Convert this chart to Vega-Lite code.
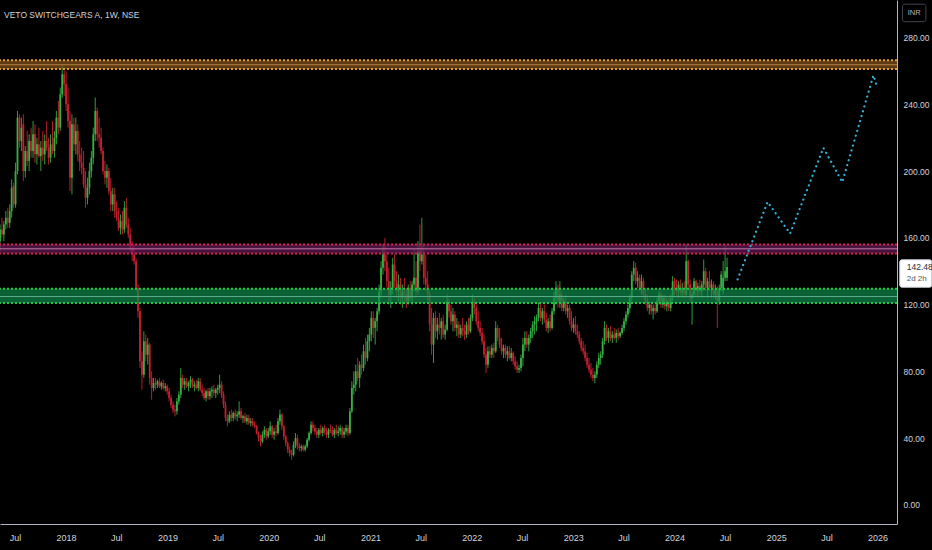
{
"$schema":"https://vega.github.io/schema/vega-lite/v6.json",
"width":897,"height":524,
"autosize":{"type":"none"},
"padding":{"left":0,"top":0,"right":35,"bottom":26},
"background":"#000000",
"title":{"text":"VETO SWITCHGEARS A, 1W, NSE","anchor":"start","frame":"group","orient":"top","offset":0,"dy":26,"dx":4,"baseline":"alphabetic","font":"Liberation Sans Narrow, Liberation Sans, sans-serif","fontSize":8.5,"fontWeight":"normal","color":"#d1d4dc"},
"config":{"view":{"stroke":null},"axis":{"grid":false,"ticks":false,"title":null}},
"datasets":{
"candles":[
{"d":"2017-05-08","o":158,"h":168,"l":152,"c":165},
{"d":"2017-05-15","o":165,"h":172,"l":160,"c":162},
{"d":"2017-05-22","o":162,"h":170,"l":158,"c":168},
{"d":"2017-05-29","o":168,"h":176,"l":165,"c":172},
{"d":"2017-06-05","o":172,"h":178,"l":166,"c":169},
{"d":"2017-06-12","o":169,"h":180,"l":166,"c":176},
{"d":"2017-06-19","o":176,"h":195,"l":172,"c":190},
{"d":"2017-06-26","o":191,"h":193,"l":178,"c":180},
{"d":"2017-07-03","o":180,"h":205,"l":178,"c":200},
{"d":"2017-07-10","o":200,"h":236,"l":198,"c":232},
{"d":"2017-07-17","o":232,"h":234,"l":214,"c":218},
{"d":"2017-07-24","o":218,"h":232,"l":212,"c":226},
{"d":"2017-07-31","o":228,"h":234,"l":194,"c":200},
{"d":"2017-08-07","o":200,"h":215,"l":196,"c":212},
{"d":"2017-08-14","o":212,"h":224,"l":203,"c":206},
{"d":"2017-08-21","o":206,"h":222,"l":200,"c":218},
{"d":"2017-08-28","o":218,"h":226,"l":208,"c":212},
{"d":"2017-09-04","o":212,"h":230,"l":208,"c":222},
{"d":"2017-09-11","o":222,"h":228,"l":205,"c":210},
{"d":"2017-09-18","o":210,"h":220,"l":204,"c":216},
{"d":"2017-09-25","o":216,"h":226,"l":208,"c":209},
{"d":"2017-10-02","o":209,"h":218,"l":200,"c":214},
{"d":"2017-10-09","o":214,"h":224,"l":206,"c":210},
{"d":"2017-10-16","o":210,"h":222,"l":204,"c":218},
{"d":"2017-10-23","o":218,"h":230,"l":212,"c":214},
{"d":"2017-10-30","o":214,"h":220,"l":204,"c":208},
{"d":"2017-11-06","o":208,"h":222,"l":205,"c":216},
{"d":"2017-11-13","o":216,"h":230,"l":210,"c":212},
{"d":"2017-11-20","o":212,"h":224,"l":208,"c":220},
{"d":"2017-11-27","o":220,"h":236,"l":216,"c":232},
{"d":"2017-12-04","o":232,"h":242,"l":222,"c":226},
{"d":"2017-12-11","o":226,"h":250,"l":224,"c":246},
{"d":"2017-12-18","o":246,"h":264,"l":244,"c":258},
{"d":"2017-12-25","o":258,"h":262,"l":245,"c":252},
{"d":"2018-01-01","o":252,"h":260,"l":236,"c":240},
{"d":"2018-01-08","o":240,"h":250,"l":226,"c":230},
{"d":"2018-01-15","o":230,"h":236,"l":188,"c":196},
{"d":"2018-01-22","o":196,"h":234,"l":186,"c":228},
{"d":"2018-01-29","o":228,"h":232,"l":212,"c":216},
{"d":"2018-02-05","o":216,"h":232,"l":210,"c":224},
{"d":"2018-02-12","o":224,"h":228,"l":206,"c":210},
{"d":"2018-02-19","o":210,"h":218,"l":200,"c":205},
{"d":"2018-02-26","o":205,"h":214,"l":198,"c":202},
{"d":"2018-03-05","o":202,"h":212,"l":190,"c":192},
{"d":"2018-03-12","o":192,"h":200,"l":178,"c":184},
{"d":"2018-03-19","o":184,"h":196,"l":180,"c":190},
{"d":"2018-03-26","o":190,"h":205,"l":186,"c":200},
{"d":"2018-04-02","o":200,"h":212,"l":196,"c":208},
{"d":"2018-04-09","o":208,"h":226,"l":204,"c":222},
{"d":"2018-04-16","o":222,"h":244,"l":218,"c":236},
{"d":"2018-04-23","o":236,"h":238,"l":218,"c":222},
{"d":"2018-04-30","o":222,"h":232,"l":214,"c":220},
{"d":"2018-05-07","o":220,"h":226,"l":210,"c":212},
{"d":"2018-05-14","o":212,"h":214,"l":198,"c":200},
{"d":"2018-05-21","o":200,"h":206,"l":192,"c":196},
{"d":"2018-05-28","o":196,"h":204,"l":190,"c":200},
{"d":"2018-06-04","o":200,"h":202,"l":186,"c":188},
{"d":"2018-06-11","o":188,"h":196,"l":176,"c":180},
{"d":"2018-06-18","o":180,"h":190,"l":176,"c":186},
{"d":"2018-06-25","o":186,"h":190,"l":172,"c":176},
{"d":"2018-07-02","o":176,"h":182,"l":170,"c":172},
{"d":"2018-07-09","o":172,"h":178,"l":164,"c":166},
{"d":"2018-07-16","o":166,"h":174,"l":162,"c":170},
{"d":"2018-07-23","o":170,"h":176,"l":162,"c":165},
{"d":"2018-07-30","o":165,"h":182,"l":163,"c":178},
{"d":"2018-08-06","o":178,"h":184,"l":166,"c":168},
{"d":"2018-08-13","o":168,"h":172,"l":160,"c":162},
{"d":"2018-08-20","o":162,"h":166,"l":152,"c":154},
{"d":"2018-08-27","o":154,"h":158,"l":146,"c":150},
{"d":"2018-09-03","o":150,"h":156,"l":144,"c":146},
{"d":"2018-09-10","o":146,"h":148,"l":128,"c":130},
{"d":"2018-09-17","o":130,"h":132,"l":112,"c":116},
{"d":"2018-09-24","o":116,"h":118,"l":82,"c":86},
{"d":"2018-10-01","o":86,"h":92,"l":69,"c":78},
{"d":"2018-10-08","o":78,"h":104,"l":76,"c":98},
{"d":"2018-10-15","o":98,"h":102,"l":86,"c":90},
{"d":"2018-10-22","o":90,"h":100,"l":84,"c":96},
{"d":"2018-10-29","o":96,"h":97,"l":72,"c":76},
{"d":"2018-11-05","o":76,"h":80,"l":63,"c":70},
{"d":"2018-11-12","o":70,"h":76,"l":68,"c":73},
{"d":"2018-11-19","o":73,"h":76,"l":69,"c":72},
{"d":"2018-11-26","o":72,"h":75,"l":70,"c":74},
{"d":"2018-12-03","o":74,"h":76,"l":70,"c":71},
{"d":"2018-12-10","o":71,"h":74,"l":69,"c":73},
{"d":"2018-12-17","o":73,"h":75,"l":69,"c":70},
{"d":"2018-12-24","o":70,"h":73,"l":68,"c":71},
{"d":"2018-12-31","o":71,"h":72,"l":66,"c":68},
{"d":"2019-01-07","o":68,"h":70,"l":62,"c":64},
{"d":"2019-01-14","o":64,"h":66,"l":58,"c":60},
{"d":"2019-01-21","o":60,"h":62,"l":55,"c":57},
{"d":"2019-01-28","o":57,"h":60,"l":53,"c":56},
{"d":"2019-02-04","o":56,"h":64,"l":54,"c":62},
{"d":"2019-02-11","o":62,"h":68,"l":60,"c":66},
{"d":"2019-02-18","o":66,"h":82,"l":64,"c":76},
{"d":"2019-02-25","o":76,"h":78,"l":70,"c":72},
{"d":"2019-03-04","o":72,"h":76,"l":69,"c":74},
{"d":"2019-03-11","o":74,"h":76,"l":70,"c":71},
{"d":"2019-03-18","o":71,"h":74,"l":68,"c":73},
{"d":"2019-03-25","o":73,"h":77,"l":70,"c":75},
{"d":"2019-04-01","o":75,"h":76,"l":70,"c":71},
{"d":"2019-04-08","o":71,"h":74,"l":68,"c":72},
{"d":"2019-04-15","o":72,"h":75,"l":69,"c":70},
{"d":"2019-04-22","o":70,"h":76,"l":68,"c":74},
{"d":"2019-04-29","o":74,"h":76,"l":68,"c":69},
{"d":"2019-05-06","o":69,"h":72,"l":65,"c":67},
{"d":"2019-05-13","o":67,"h":70,"l":63,"c":64},
{"d":"2019-05-20","o":64,"h":69,"l":62,"c":68},
{"d":"2019-05-27","o":68,"h":70,"l":63,"c":65},
{"d":"2019-06-03","o":65,"h":70,"l":63,"c":68},
{"d":"2019-06-10","o":68,"h":71,"l":64,"c":69},
{"d":"2019-06-17","o":69,"h":72,"l":65,"c":67},
{"d":"2019-06-24","o":67,"h":70,"l":64,"c":69},
{"d":"2019-07-01","o":69,"h":72,"l":66,"c":70},
{"d":"2019-07-08","o":70,"h":78,"l":67,"c":72},
{"d":"2019-07-15","o":72,"h":74,"l":64,"c":66},
{"d":"2019-07-22","o":66,"h":68,"l":58,"c":60},
{"d":"2019-07-29","o":60,"h":62,"l":50,"c":52},
{"d":"2019-08-05","o":52,"h":54,"l":47,"c":50},
{"d":"2019-08-12","o":50,"h":56,"l":49,"c":54},
{"d":"2019-08-19","o":54,"h":57,"l":50,"c":52},
{"d":"2019-08-26","o":52,"h":56,"l":50,"c":55},
{"d":"2019-09-02","o":55,"h":57,"l":51,"c":53},
{"d":"2019-09-09","o":53,"h":56,"l":50,"c":54},
{"d":"2019-09-16","o":54,"h":62,"l":52,"c":56},
{"d":"2019-09-23","o":56,"h":58,"l":51,"c":52},
{"d":"2019-09-30","o":52,"h":54,"l":49,"c":53},
{"d":"2019-10-07","o":53,"h":55,"l":49,"c":50},
{"d":"2019-10-14","o":50,"h":54,"l":48,"c":52},
{"d":"2019-10-21","o":52,"h":54,"l":48,"c":49},
{"d":"2019-10-28","o":49,"h":52,"l":47,"c":50},
{"d":"2019-11-04","o":50,"h":52,"l":47,"c":48},
{"d":"2019-11-11","o":48,"h":50,"l":46,"c":47},
{"d":"2019-11-18","o":47,"h":48,"l":42,"c":43},
{"d":"2019-11-25","o":43,"h":44,"l":38,"c":40},
{"d":"2019-12-02","o":40,"h":42,"l":35,"c":38},
{"d":"2019-12-09","o":38,"h":44,"l":37,"c":42},
{"d":"2019-12-16","o":42,"h":47,"l":40,"c":45},
{"d":"2019-12-23","o":45,"h":46,"l":39,"c":41},
{"d":"2019-12-30","o":41,"h":46,"l":40,"c":44},
{"d":"2020-01-06","o":44,"h":50,"l":42,"c":47},
{"d":"2020-01-13","o":47,"h":48,"l":40,"c":42},
{"d":"2020-01-20","o":42,"h":46,"l":39,"c":44},
{"d":"2020-01-27","o":44,"h":48,"l":41,"c":43},
{"d":"2020-02-03","o":43,"h":52,"l":42,"c":50},
{"d":"2020-02-10","o":50,"h":57,"l":48,"c":54},
{"d":"2020-02-17","o":54,"h":55,"l":45,"c":47},
{"d":"2020-02-24","o":47,"h":48,"l":39,"c":41},
{"d":"2020-03-02","o":41,"h":42,"l":35,"c":37},
{"d":"2020-03-09","o":37,"h":38,"l":31,"c":33},
{"d":"2020-03-16","o":33,"h":35,"l":29,"c":31},
{"d":"2020-03-23","o":31,"h":33,"l":27,"c":30},
{"d":"2020-03-30","o":30,"h":38,"l":29,"c":36},
{"d":"2020-04-06","o":36,"h":43,"l":34,"c":40},
{"d":"2020-04-13","o":40,"h":42,"l":33,"c":35},
{"d":"2020-04-20","o":35,"h":37,"l":32,"c":34},
{"d":"2020-04-27","o":34,"h":36,"l":32,"c":35},
{"d":"2020-05-04","o":35,"h":36,"l":32,"c":33},
{"d":"2020-05-11","o":33,"h":36,"l":32,"c":35},
{"d":"2020-05-18","o":35,"h":40,"l":34,"c":39},
{"d":"2020-05-25","o":39,"h":44,"l":38,"c":43},
{"d":"2020-06-01","o":43,"h":50,"l":42,"c":48},
{"d":"2020-06-08","o":48,"h":50,"l":44,"c":46},
{"d":"2020-06-15","o":46,"h":48,"l":42,"c":44},
{"d":"2020-06-22","o":44,"h":46,"l":40,"c":42},
{"d":"2020-06-29","o":42,"h":46,"l":40,"c":45},
{"d":"2020-07-06","o":45,"h":48,"l":42,"c":43},
{"d":"2020-07-13","o":43,"h":47,"l":41,"c":46},
{"d":"2020-07-20","o":46,"h":48,"l":42,"c":44},
{"d":"2020-07-27","o":44,"h":46,"l":40,"c":42},
{"d":"2020-08-03","o":42,"h":46,"l":40,"c":45},
{"d":"2020-08-10","o":45,"h":48,"l":43,"c":44},
{"d":"2020-08-17","o":44,"h":47,"l":41,"c":42},
{"d":"2020-08-24","o":42,"h":46,"l":40,"c":45},
{"d":"2020-08-31","o":45,"h":48,"l":42,"c":43},
{"d":"2020-09-07","o":43,"h":47,"l":41,"c":44},
{"d":"2020-09-14","o":44,"h":48,"l":42,"c":46},
{"d":"2020-09-21","o":46,"h":47,"l":40,"c":42},
{"d":"2020-09-28","o":42,"h":46,"l":40,"c":44},
{"d":"2020-10-05","o":44,"h":48,"l":42,"c":46},
{"d":"2020-10-12","o":46,"h":48,"l":41,"c":43},
{"d":"2020-10-19","o":43,"h":58,"l":42,"c":56},
{"d":"2020-10-26","o":56,"h":74,"l":55,"c":70},
{"d":"2020-11-02","o":70,"h":80,"l":66,"c":72},
{"d":"2020-11-09","o":72,"h":84,"l":68,"c":80},
{"d":"2020-11-16","o":80,"h":88,"l":74,"c":76},
{"d":"2020-11-23","o":76,"h":86,"l":70,"c":84},
{"d":"2020-11-30","o":84,"h":90,"l":78,"c":82},
{"d":"2020-12-07","o":82,"h":96,"l":80,"c":92},
{"d":"2020-12-14","o":92,"h":100,"l":84,"c":88},
{"d":"2020-12-21","o":88,"h":102,"l":86,"c":98},
{"d":"2020-12-28","o":98,"h":106,"l":92,"c":102},
{"d":"2021-01-04","o":102,"h":116,"l":98,"c":112},
{"d":"2021-01-11","o":112,"h":116,"l":100,"c":106},
{"d":"2021-01-18","o":106,"h":112,"l":96,"c":110},
{"d":"2021-01-25","o":110,"h":118,"l":104,"c":116},
{"d":"2021-02-01","o":116,"h":132,"l":114,"c":128},
{"d":"2021-02-08","o":128,"h":146,"l":124,"c":142},
{"d":"2021-02-15","o":142,"h":156,"l":138,"c":150},
{"d":"2021-02-22","o":150,"h":160,"l":140,"c":146},
{"d":"2021-03-01","o":146,"h":152,"l":130,"c":134},
{"d":"2021-03-08","o":134,"h":142,"l":120,"c":126},
{"d":"2021-03-15","o":126,"h":134,"l":118,"c":130},
{"d":"2021-03-22","o":130,"h":148,"l":126,"c":144},
{"d":"2021-03-29","o":144,"h":150,"l":130,"c":134},
{"d":"2021-04-05","o":134,"h":140,"l":124,"c":128},
{"d":"2021-04-12","o":128,"h":138,"l":122,"c":132},
{"d":"2021-04-19","o":132,"h":136,"l":120,"c":124},
{"d":"2021-04-26","o":124,"h":132,"l":118,"c":128},
{"d":"2021-05-03","o":128,"h":136,"l":122,"c":126},
{"d":"2021-05-10","o":126,"h":130,"l":118,"c":122},
{"d":"2021-05-17","o":122,"h":132,"l":120,"c":130},
{"d":"2021-05-24","o":130,"h":134,"l":122,"c":124},
{"d":"2021-05-31","o":124,"h":134,"l":120,"c":132},
{"d":"2021-06-07","o":132,"h":153,"l":128,"c":136},
{"d":"2021-06-14","o":136,"h":146,"l":124,"c":128},
{"d":"2021-06-21","o":128,"h":158,"l":126,"c":152},
{"d":"2021-06-28","o":152,"h":168,"l":140,"c":146},
{"d":"2021-07-05","o":146,"h":172,"l":144,"c":150},
{"d":"2021-07-12","o":150,"h":156,"l":132,"c":136},
{"d":"2021-07-19","o":136,"h":150,"l":128,"c":132},
{"d":"2021-07-26","o":132,"h":140,"l":122,"c":126},
{"d":"2021-08-02","o":126,"h":128,"l":104,"c":108},
{"d":"2021-08-09","o":108,"h":118,"l":90,"c":96},
{"d":"2021-08-16","o":96,"h":115,"l":85,"c":112},
{"d":"2021-08-23","o":112,"h":116,"l":100,"c":104},
{"d":"2021-08-30","o":104,"h":112,"l":99,"c":108},
{"d":"2021-09-06","o":108,"h":115,"l":102,"c":106},
{"d":"2021-09-13","o":106,"h":112,"l":99,"c":110},
{"d":"2021-09-20","o":110,"h":114,"l":100,"c":102},
{"d":"2021-09-27","o":102,"h":108,"l":99,"c":105},
{"d":"2021-10-04","o":105,"h":126,"l":104,"c":122},
{"d":"2021-10-11","o":122,"h":124,"l":112,"c":116},
{"d":"2021-10-18","o":116,"h":120,"l":108,"c":110},
{"d":"2021-10-25","o":110,"h":118,"l":104,"c":114},
{"d":"2021-11-01","o":114,"h":116,"l":104,"c":106},
{"d":"2021-11-08","o":106,"h":112,"l":101,"c":108},
{"d":"2021-11-15","o":108,"h":110,"l":100,"c":102},
{"d":"2021-11-22","o":102,"h":108,"l":100,"c":106},
{"d":"2021-11-29","o":106,"h":112,"l":101,"c":104},
{"d":"2021-12-06","o":104,"h":108,"l":99,"c":102},
{"d":"2021-12-13","o":102,"h":110,"l":100,"c":108},
{"d":"2021-12-20","o":108,"h":112,"l":102,"c":104},
{"d":"2021-12-27","o":104,"h":114,"l":103,"c":112},
{"d":"2022-01-03","o":112,"h":126,"l":110,"c":122},
{"d":"2022-01-10","o":122,"h":124,"l":114,"c":118},
{"d":"2022-01-17","o":118,"h":120,"l":108,"c":110},
{"d":"2022-01-24","o":110,"h":116,"l":104,"c":106},
{"d":"2022-01-31","o":106,"h":110,"l":101,"c":103},
{"d":"2022-02-07","o":103,"h":106,"l":96,"c":98},
{"d":"2022-02-14","o":98,"h":102,"l":88,"c":90},
{"d":"2022-02-21","o":90,"h":94,"l":79,"c":84},
{"d":"2022-02-28","o":84,"h":95,"l":82,"c":92},
{"d":"2022-03-07","o":92,"h":95,"l":88,"c":90},
{"d":"2022-03-14","o":90,"h":96,"l":88,"c":94},
{"d":"2022-03-21","o":94,"h":97,"l":88,"c":92},
{"d":"2022-03-28","o":92,"h":110,"l":91,"c":106},
{"d":"2022-04-04","o":106,"h":108,"l":98,"c":100},
{"d":"2022-04-11","o":100,"h":106,"l":94,"c":96},
{"d":"2022-04-18","o":96,"h":100,"l":90,"c":92},
{"d":"2022-04-25","o":92,"h":96,"l":88,"c":94},
{"d":"2022-05-02","o":94,"h":96,"l":88,"c":90},
{"d":"2022-05-09","o":90,"h":95,"l":86,"c":92},
{"d":"2022-05-16","o":92,"h":95,"l":87,"c":88},
{"d":"2022-05-23","o":88,"h":94,"l":86,"c":91},
{"d":"2022-05-30","o":91,"h":92,"l":84,"c":86},
{"d":"2022-06-06","o":86,"h":89,"l":81,"c":83},
{"d":"2022-06-13","o":83,"h":86,"l":79,"c":81},
{"d":"2022-06-20","o":81,"h":84,"l":79,"c":82},
{"d":"2022-06-27","o":82,"h":90,"l":80,"c":88},
{"d":"2022-07-04","o":88,"h":100,"l":83,"c":96},
{"d":"2022-07-11","o":96,"h":104,"l":92,"c":100},
{"d":"2022-07-18","o":100,"h":104,"l":94,"c":96},
{"d":"2022-07-25","o":96,"h":102,"l":92,"c":100},
{"d":"2022-08-01","o":100,"h":106,"l":97,"c":104},
{"d":"2022-08-08","o":104,"h":110,"l":100,"c":108},
{"d":"2022-08-15","o":108,"h":113,"l":102,"c":110},
{"d":"2022-08-22","o":110,"h":114,"l":104,"c":112},
{"d":"2022-08-29","o":112,"h":121,"l":110,"c":118},
{"d":"2022-09-05","o":118,"h":121,"l":110,"c":112},
{"d":"2022-09-12","o":112,"h":118,"l":108,"c":116},
{"d":"2022-09-19","o":116,"h":120,"l":109,"c":111},
{"d":"2022-09-26","o":111,"h":115,"l":104,"c":106},
{"d":"2022-10-03","o":106,"h":112,"l":103,"c":110},
{"d":"2022-10-10","o":110,"h":114,"l":104,"c":106},
{"d":"2022-10-17","o":106,"h":118,"l":105,"c":116},
{"d":"2022-10-24","o":116,"h":128,"l":114,"c":124},
{"d":"2022-10-31","o":124,"h":134,"l":120,"c":130},
{"d":"2022-11-07","o":130,"h":132,"l":118,"c":122},
{"d":"2022-11-14","o":122,"h":134,"l":118,"c":126},
{"d":"2022-11-21","o":126,"h":128,"l":116,"c":118},
{"d":"2022-11-28","o":118,"h":124,"l":116,"c":122},
{"d":"2022-12-05","o":122,"h":126,"l":114,"c":116},
{"d":"2022-12-12","o":116,"h":120,"l":112,"c":118},
{"d":"2022-12-19","o":118,"h":120,"l":108,"c":110},
{"d":"2022-12-26","o":110,"h":116,"l":104,"c":106},
{"d":"2023-01-02","o":106,"h":112,"l":103,"c":108},
{"d":"2023-01-09","o":108,"h":113,"l":102,"c":104},
{"d":"2023-01-16","o":104,"h":108,"l":100,"c":102},
{"d":"2023-01-23","o":102,"h":104,"l":96,"c":98},
{"d":"2023-01-30","o":98,"h":100,"l":92,"c":94},
{"d":"2023-02-06","o":94,"h":98,"l":90,"c":92},
{"d":"2023-02-13","o":92,"h":96,"l":86,"c":88},
{"d":"2023-02-20","o":88,"h":91,"l":82,"c":84},
{"d":"2023-02-27","o":84,"h":88,"l":79,"c":81},
{"d":"2023-03-06","o":81,"h":85,"l":76,"c":78},
{"d":"2023-03-13","o":78,"h":82,"l":74,"c":76},
{"d":"2023-03-20","o":76,"h":80,"l":73,"c":78},
{"d":"2023-03-27","o":78,"h":86,"l":76,"c":84},
{"d":"2023-04-03","o":84,"h":91,"l":82,"c":88},
{"d":"2023-04-10","o":88,"h":92,"l":84,"c":90},
{"d":"2023-04-17","o":90,"h":100,"l":88,"c":98},
{"d":"2023-04-24","o":98,"h":110,"l":96,"c":106},
{"d":"2023-05-01","o":106,"h":108,"l":98,"c":100},
{"d":"2023-05-08","o":100,"h":106,"l":97,"c":104},
{"d":"2023-05-15","o":104,"h":107,"l":98,"c":100},
{"d":"2023-05-22","o":100,"h":104,"l":97,"c":102},
{"d":"2023-05-29","o":102,"h":106,"l":99,"c":100},
{"d":"2023-06-05","o":100,"h":105,"l":97,"c":103},
{"d":"2023-06-12","o":103,"h":106,"l":99,"c":101},
{"d":"2023-06-19","o":101,"h":104,"l":100,"c":103},
{"d":"2023-06-26","o":103,"h":108,"l":102,"c":106},
{"d":"2023-07-03","o":106,"h":112,"l":104,"c":110},
{"d":"2023-07-10","o":110,"h":116,"l":108,"c":114},
{"d":"2023-07-17","o":114,"h":120,"l":112,"c":118},
{"d":"2023-07-24","o":118,"h":126,"l":115,"c":124},
{"d":"2023-07-31","o":124,"h":140,"l":122,"c":138},
{"d":"2023-08-07","o":138,"h":146,"l":134,"c":142},
{"d":"2023-08-14","o":142,"h":145,"l":132,"c":134},
{"d":"2023-08-21","o":134,"h":140,"l":130,"c":136},
{"d":"2023-08-28","o":136,"h":138,"l":128,"c":130},
{"d":"2023-09-04","o":130,"h":138,"l":126,"c":134},
{"d":"2023-09-11","o":134,"h":136,"l":124,"c":126},
{"d":"2023-09-18","o":126,"h":130,"l":120,"c":122},
{"d":"2023-09-25","o":122,"h":126,"l":116,"c":118},
{"d":"2023-10-02","o":118,"h":122,"l":114,"c":120},
{"d":"2023-10-09","o":120,"h":122,"l":114,"c":116},
{"d":"2023-10-16","o":116,"h":120,"l":111,"c":118},
{"d":"2023-10-23","o":118,"h":121,"l":114,"c":116},
{"d":"2023-10-30","o":116,"h":124,"l":115,"c":122},
{"d":"2023-11-06","o":122,"h":128,"l":120,"c":126},
{"d":"2023-11-13","o":126,"h":128,"l":118,"c":120},
{"d":"2023-11-20","o":120,"h":126,"l":118,"c":124},
{"d":"2023-11-27","o":124,"h":126,"l":117,"c":119},
{"d":"2023-12-04","o":119,"h":124,"l":116,"c":122},
{"d":"2023-12-11","o":122,"h":124,"l":116,"c":118},
{"d":"2023-12-18","o":118,"h":126,"l":116,"c":124},
{"d":"2023-12-25","o":124,"h":137,"l":122,"c":134},
{"d":"2024-01-01","o":134,"h":136,"l":126,"c":130},
{"d":"2024-01-08","o":130,"h":135,"l":124,"c":128},
{"d":"2024-01-15","o":128,"h":134,"l":124,"c":132},
{"d":"2024-01-22","o":132,"h":135,"l":125,"c":127},
{"d":"2024-01-29","o":127,"h":133,"l":124,"c":130},
{"d":"2024-02-05","o":130,"h":134,"l":124,"c":126},
{"d":"2024-02-12","o":126,"h":156,"l":124,"c":146},
{"d":"2024-02-19","o":146,"h":147,"l":130,"c":132},
{"d":"2024-02-26","o":132,"h":135,"l":122,"c":124},
{"d":"2024-03-04","o":124,"h":128,"l":108,"c":126},
{"d":"2024-03-11","o":126,"h":136,"l":124,"c":134},
{"d":"2024-03-18","o":134,"h":135,"l":125,"c":128},
{"d":"2024-03-25","o":128,"h":133,"l":124,"c":131},
{"d":"2024-04-01","o":131,"h":135,"l":126,"c":128},
{"d":"2024-04-08","o":128,"h":134,"l":124,"c":132},
{"d":"2024-04-15","o":132,"h":147,"l":130,"c":140},
{"d":"2024-04-22","o":140,"h":142,"l":128,"c":130},
{"d":"2024-04-29","o":130,"h":136,"l":124,"c":134},
{"d":"2024-05-06","o":134,"h":140,"l":128,"c":130},
{"d":"2024-05-13","o":130,"h":135,"l":124,"c":132},
{"d":"2024-05-20","o":132,"h":134,"l":124,"c":126},
{"d":"2024-05-27","o":126,"h":132,"l":123,"c":129},
{"d":"2024-06-03","o":129,"h":131,"l":106,"c":122},
{"d":"2024-06-10","o":122,"h":132,"l":120,"c":130},
{"d":"2024-06-17","o":130,"h":140,"l":128,"c":138},
{"d":"2024-06-24","o":128,"h":146,"l":126,"c":136},
{"d":"2024-07-01","o":136,"h":155,"l":134,"c":140},
{"d":"2024-07-08","o":136,"h":148,"l":134,"c":142.48}
],
"projection":[
{"d":"2024-08-15","p":135.1},
{"d":"2024-12-01","p":181.5},
{"d":"2025-02-20","p":162.6},
{"d":"2025-06-20","p":213.9},
{"d":"2025-08-27","p":193.4},
{"d":"2025-12-17","p":257.3},
{"d":"2026-01-01","p":249.7}
],
"zones":[
{"zone":"supply","lo":261.1,"hi":266.4,"mid":263.7},
{"zone":"resistance","lo":150.6,"hi":156.0,"mid":153.4},
{"zone":"support","lo":120.9,"hi":129.4,"mid":124.8}
]
},
"layer":[
{
"data":{"name":"candles"},
"mark":{"type":"rule","strokeWidth":1},
"encoding":{
"x":{"field":"d","type":"temporal","scale":{"type":"utc","domain":[{"year":2017,"month":5,"date":8,"utc":true},{"year":2026,"month":3,"date":12,"utc":true}]},
"axis":{"orient":"bottom","values":[{"year":2017,"month":7,"date":1,"utc":true},{"year":2018,"month":1,"date":1,"utc":true},{"year":2018,"month":7,"date":1,"utc":true},{"year":2019,"month":1,"date":1,"utc":true},{"year":2019,"month":7,"date":1,"utc":true},{"year":2020,"month":1,"date":1,"utc":true},{"year":2020,"month":7,"date":1,"utc":true},{"year":2021,"month":1,"date":1,"utc":true},{"year":2021,"month":7,"date":1,"utc":true},{"year":2022,"month":1,"date":1,"utc":true},{"year":2022,"month":7,"date":1,"utc":true},{"year":2023,"month":1,"date":1,"utc":true},{"year":2023,"month":7,"date":1,"utc":true},{"year":2024,"month":1,"date":1,"utc":true},{"year":2024,"month":7,"date":1,"utc":true},{"year":2025,"month":1,"date":1,"utc":true},{"year":2025,"month":7,"date":1,"utc":true},{"year":2026,"month":1,"date":1,"utc":true}],
"labelExpr":"utcmonth(datum.value) == 0 ? utcFormat(datum.value, '%Y') : 'Jul'","labelFlush":false,"labelOverlap":false,"labelPadding":9,"labelColor":"#d1d4dc","labelFont":"Liberation Sans Narrow, Liberation Sans, sans-serif","labelFontSize":9,"domainColor":"#b2b5be","domainWidth":1,"title":null}},
"y":{"field":"l","type":"quantitative","scale":{"domain":[-11.5,302.5],"nice":false,"zero":false},
"axis":{"orient":"right","values":[0,20,40,60,80,100,120,140,160,180,200,220,240,260,280],"format":".2f","labelPadding":6,"labelColor":"#d1d4dc","labelFont":"Liberation Sans Narrow, Liberation Sans, sans-serif","labelFontSize":8.5,"domainColor":"#b2b5be","domainWidth":1,"title":null}},
"y2":{"field":"h"},
"color":{"condition":{"test":"datum.c >= datum.o","value":"#2e9d3a"},"value":"#b51f2c"}
}
},
{
"data":{"name":"candles"},
"mark":{"type":"rule","strokeWidth":1.8},
"encoding":{
"x":{"field":"d","type":"temporal"},
"y":{"field":"o","type":"quantitative"},
"y2":{"field":"c"},
"color":{"condition":{"test":"datum.c >= datum.o","value":"#37b044"},"value":"#c4212f"}
}
},
{
"data":{"name":"zones"},
"mark":{"type":"rect","fillOpacity":0.7},
"encoding":{
"y":{"field":"lo","type":"quantitative"},
"y2":{"field":"hi"},
"fill":{"field":"zone","type":"nominal","scale":{"domain":["supply","resistance","support"],"range":["#84531a","#6a1a5c","#0e8a4c"]},"legend":null}
}
},
{
"data":{"name":"zones"},
"mark":{"type":"rule","strokeWidth":1},
"encoding":{
"y":{"field":"mid","type":"quantitative"},
"stroke":{"field":"zone","type":"nominal","scale":{"domain":["supply","resistance","support"],"range":["#b58040","#c07aa8","#5ab088"]},"legend":null}
}
},
{
"data":{"name":"zones"},
"layer":[
{"mark":{"type":"rule","strokeWidth":2,"strokeDash":[2,2]},
"encoding":{"y":{"field":"hi","type":"quantitative"}}},
{"mark":{"type":"rule","strokeWidth":2,"strokeDash":[2,2]},
"encoding":{"y":{"field":"lo","type":"quantitative"}}}
],
"encoding":{
"color":{"field":"zone","type":"nominal","scale":{"domain":["supply","resistance","support"],"range":["#e0a030","#d0204c","#24c840"]},"legend":null}
}
},
{
"data":{"name":"projection"},
"mark":{"type":"line","stroke":"#35b1d6","strokeWidth":2.2,"strokeDash":[0.1,5],"strokeCap":"round"},
"encoding":{
"x":{"field":"d","type":"temporal"},
"y":{"field":"p","type":"quantitative"}
}
},
{
"data":{"values":[{"price":142.48,"left":"2d 2h","cur":"INR"}]},
"layer":[
{"mark":{"type":"rect","fill":"#ffffff","stroke":"#d1d4dc","strokeWidth":1,"cornerRadius":2},
"encoding":{"x":{"datum":{"year":2026,"month":3,"date":22,"utc":true},"type":"temporal"},"x2":{"datum":{"year":2026,"month":7,"date":15,"utc":true}},"y":{"datum":146.8,"type":"quantitative"},"y2":{"datum":130.4}}},
{"mark":{"type":"text","align":"left","baseline":"middle","fontSize":8.5,"font":"Liberation Sans Narrow, Liberation Sans, sans-serif","color":"#2a2e39"},
"encoding":{"x":{"datum":{"year":2026,"month":4,"date":16,"utc":true},"type":"temporal"},"y":{"datum":142.4,"type":"quantitative"},"text":{"field":"price","format":".2f"}}},
{"mark":{"type":"text","align":"left","baseline":"middle","fontSize":8,"font":"Liberation Sans Narrow, Liberation Sans, sans-serif","color":"#50535e"},
"encoding":{"x":{"datum":{"year":2026,"month":4,"date":16,"utc":true},"type":"temporal"},"y":{"datum":135.2,"type":"quantitative"},"text":{"field":"left"}}},
{"mark":{"type":"rect","fill":"#000000","stroke":"#434651","strokeWidth":1,"cornerRadius":2},
"encoding":{"x":{"datum":{"year":2026,"month":4,"date":1,"utc":true},"type":"temporal"},"x2":{"datum":{"year":2026,"month":6,"date":24,"utc":true}},"y":{"datum":300,"type":"quantitative"},"y2":{"datum":289.5}}},
{"mark":{"type":"text","align":"center","baseline":"middle","fontSize":7.5,"font":"Liberation Sans Narrow, Liberation Sans, sans-serif","color":"#b2b5be"},
"encoding":{"x":{"datum":{"year":2026,"month":5,"date":13,"utc":true},"type":"temporal"},"y":{"datum":294.8,"type":"quantitative"},"text":{"field":"cur"}}}
]
}
],
"resolve":{"scale":{"fill":"independent","stroke":"independent","color":"independent"}}
}
